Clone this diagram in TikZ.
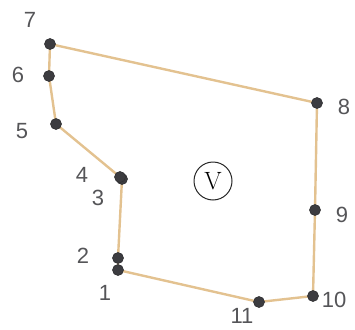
\documentclass[tikz,border=0pt]{standalone}
\usepackage{fontspec}
\newfontfamily\numfont{Liberation Sans}
\usetikzlibrary{backgrounds}
\definecolor{TraceTan}{HTML}{E3C290}
\definecolor{DotDark}{HTML}{3C3C40}
\definecolor{NumGray}{HTML}{555558}
\tikzset{
  dot/.style={circle, fill=DotDark, draw=DotDark!80!black, line width=0.6pt,
              inner sep=0pt, minimum size=11pt},
  numlabel/.style={font=\numfont\fontsize{22}{22}\selectfont\color{NumGray},
                   inner sep=0pt},
  edge/.style={draw=TraceTan, line width=2.4pt, line join=round},
  zone/.style={circle, draw=black!85, line width=1pt, inner sep=0pt,
               minimum size=38pt, font=\fontsize{25}{25}\selectfont},
}
\begin{document}
\begin{tikzpicture}[x=1pt, y=-1pt]
  \useasboundingbox (0,0) rectangle (355,329);

  % survey points
  \node[dot] (p1)  at (118,270) {};
  \node[dot] (p2)  at (118,258) {};
  \node[dot] (p3)  at (122,179) {};
  \node[dot] (p4)  at (120,177) {};
  \node[dot] (p5)  at (56,124) {};
  \node[dot] (p6)  at (49,76) {};
  \node[dot] (p7)  at (50,44) {};
  \node[dot] (p8)  at (317,103) {};
  \node[dot] (p9)  at (315,210) {};
  \node[dot] (p10) at (313,296) {};
  \node[dot] (p11) at (259,302) {};

  % boundary
  \begin{scope}[on background layer]
    \draw[edge] (p1.center) -- (p2.center) -- (p3.center) -- (p4.center)
      -- (p5.center) -- (p6.center) -- (p7.center) -- (p8.center)
      -- (p9.center) -- (p10.center) -- (p11.center) -- cycle;
  \end{scope}

  % point numbers
  \node[numlabel] (n1)  at (105,293) {1};
  \node[numlabel] (n2)  at (83,256)  {2};
  \node[numlabel] (n3)  at (98,198)  {3};
  \node[numlabel] (n4)  at (82,175)  {4};
  \node[numlabel] (n5)  at (22,131)  {5};
  \node[numlabel] (n6)  at (18,75)   {6};
  \node[numlabel] (n7)  at (30,20)   {7};
  \node[numlabel] (n8)  at (344,107) {8};
  \node[numlabel] (n9)  at (342,215) {9};
  \node[numlabel] (n10) at (334,300) {10};
  \node[numlabel] (n11) at (242,316) {11};

  \node[zone] (zoneV) at (213,181) {V};
\end{tikzpicture}
\end{document}
